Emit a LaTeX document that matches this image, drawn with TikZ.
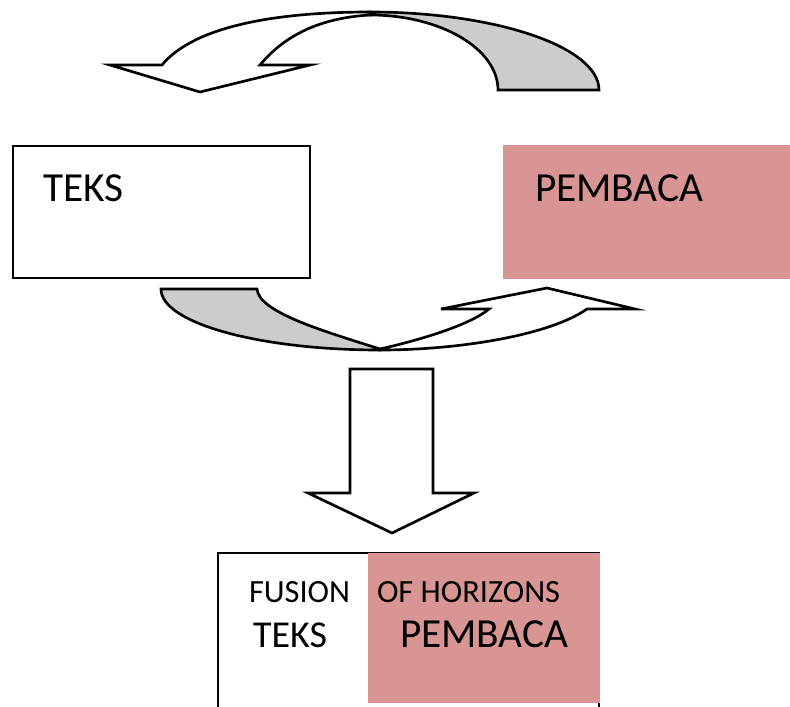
\documentclass[tikz,border=0pt]{standalone}
\usepackage{fontspec}
\setmainfont{Carlito}
\definecolor{pinkfill}{HTML}{D99594}
\definecolor{bandgray}{HTML}{CCCCCC}
\begin{document}
\begin{tikzpicture}[x=0.75pt,y=-0.75pt,
  outline/.style={draw=black, line width=2pt, line join=miter},
  lbl/.style={anchor=base west, inner sep=0pt, outer sep=0pt},
  big/.style={lbl, font=\fontsize{31}{36}\selectfont},
  mid/.style={lbl, font=\fontsize{28.5}{34}\selectfont},
  small/.style={lbl, font=\fontsize{24.3}{29}\selectfont}]
\useasboundingbox (0,0) rectangle (790,707);

% top curved arrow: back (gray) part
\filldraw[outline, fill=bandgray] (370,12) .. controls (496,12) and (599,47) .. (599,90)
  -- (498,90) .. controls (498,49) and (441,15) .. (370,15) -- cycle;
% top curved arrow: front part with head
\filldraw[outline, fill=white] (370,12) .. controls (280,12) and (195,25) .. (162,65)
  -- (110,65) -- (200,92) -- (310,65) -- (260,65)
  .. controls (285,35) and (320,18) .. (370,15) -- cycle;

% upper boxes
\draw[outline] (13,146) rectangle (310,278);
\fill[pinkfill] (503,145) rectangle (790,279);
\node[big] (teks) at (43,201) {TEKS};
\node[big] (pembaca) at (535,201) {PEMBACA};

% bottom curved arrow: back (gray) part
\filldraw[outline, fill=bandgray] (161,289) -- (257,289)
  .. controls (259,312) and (320,330) .. (380,349) -- (380,350)
  .. controls (259,350) and (161,323) .. (161,289) -- cycle;
% bottom curved arrow: front part with head
\filldraw[outline, fill=white] (380,350) .. controls (460,350) and (550,335) .. (587,309)
  -- (635,309) -- (547,288) -- (441,309) -- (489,309)
  .. controls (470,325) and (420,340) .. (380,349) -- cycle;

% down arrow
\filldraw[outline, fill=white] (350,369) -- (433,369) -- (433,493) -- (474,493)
  -- (392,533) -- (308,493) -- (350,493) -- cycle;

% fusion box
\draw[outline] (218,715) -- (218,553) -- (599,553) -- (599,715);
\fill[pinkfill] (368,553) rectangle (600,703);
\node[small] (fusion) at (249,602) {FUSION};
\node[small] (horizons) at (377,602) {OF HORIZONS};
\node[mid] (teks2) at (253,647) {TEKS};
\node[big] (pembaca2) at (400,647) {PEMBACA};
\end{tikzpicture}
\end{document}
